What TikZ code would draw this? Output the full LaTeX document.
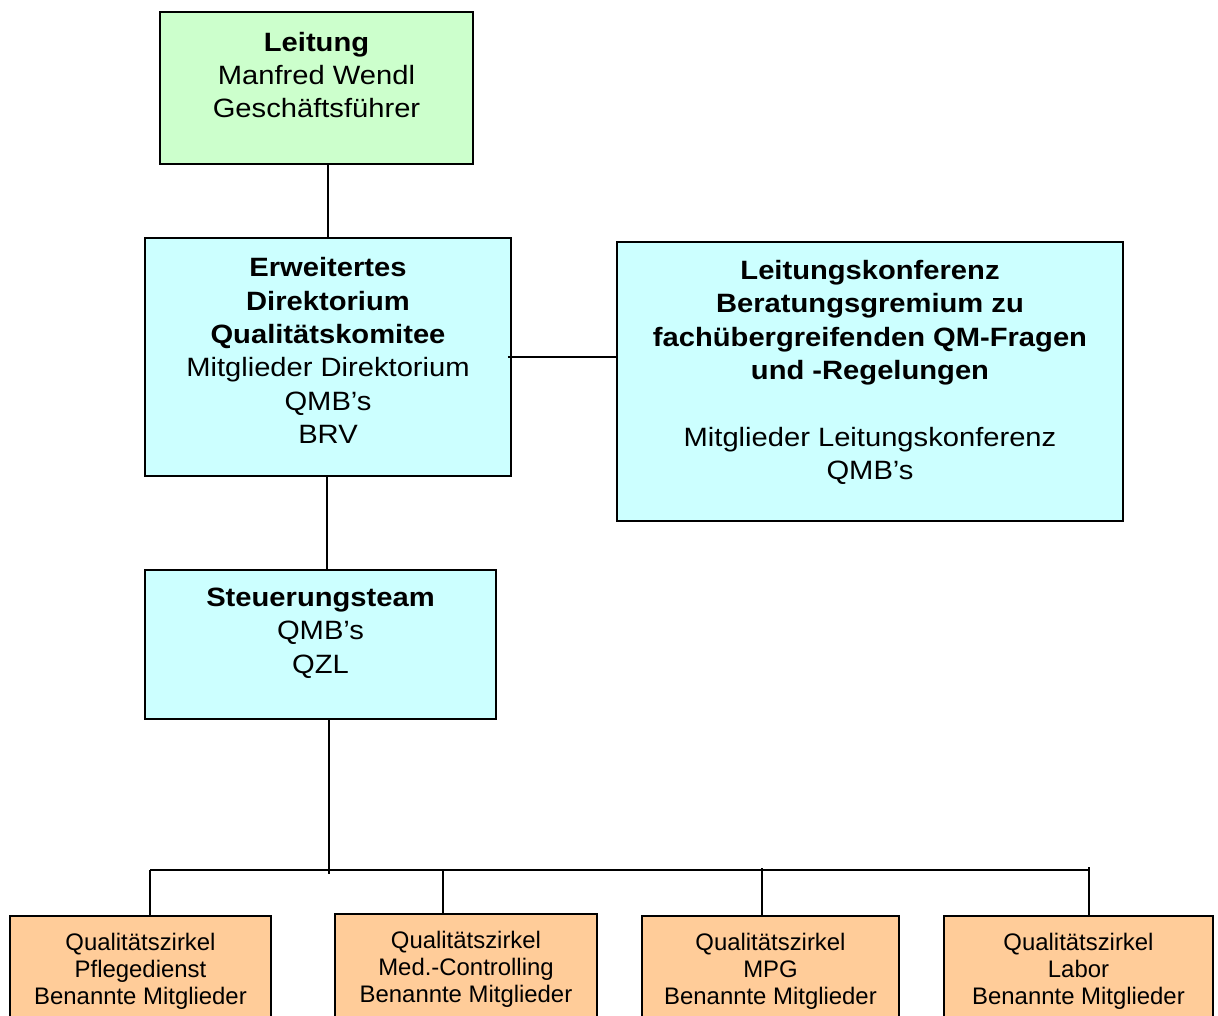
\documentclass[tikz,border=0pt]{standalone}
\usepackage{fontspec}
\setmainfont{Liberation Sans}
\newfontfamily\topfont{Liberation Sans}[FakeStretch=1.1]
\definecolor{lgreen}{HTML}{CCFFCC}
\definecolor{lcyan}{HTML}{CCFFFF}
\definecolor{lorange}{HTML}{FFCC99}
\begin{document}
\begin{tikzpicture}[x=1pt,y=-1pt,
  box/.style={draw=black, line width=1.8pt, inner sep=0pt},
  toptext/.style={align=center, inner sep=0pt, font=\topfont\fontsize{26.5}{33.3}\selectfont},
  bottext/.style={align=center, inner sep=0pt, font=\fontsize{23.9}{27}\selectfont},
  conn/.style={draw=black, line width=1.8pt}]
\clip (0,0) rectangle (1218,1016);
\fill[white] (0,0) rectangle (1218,1016);

% boxes
\node[box, fill=lgreen, minimum width=313pt, minimum height=152pt] (lead) at (316.5,88) {};
\node[box, fill=lcyan, minimum width=366pt, minimum height=238pt] (erw) at (328,357) {};
\node[box, fill=lcyan, minimum width=506pt, minimum height=279pt] (lk) at (870,381.5) {};
\node[box, fill=lcyan, minimum width=351pt, minimum height=149pt] (steu) at (320.5,644.5) {};
\node[box, fill=lorange, minimum width=261pt, minimum height=124pt] (q1) at (140.5,978) {};
\node[box, fill=lorange, minimum width=262pt, minimum height=126pt] (q2) at (466,977) {};
\node[box, fill=lorange, minimum width=257pt, minimum height=124pt] (q3) at (770.5,978) {};
\node[box, fill=lorange, minimum width=269pt, minimum height=124pt] (q4) at (1078.5,978) {};

% texts
\node[toptext] (leadT) at (316.5,75) {\textbf{Leitung}\\Manfred Wendl\\Geschäftsführer};
\node[toptext] (erwT) at (328,350.5) {\textbf{Erweitertes}\\\textbf{Direktorium}\\\textbf{Qualitätskomitee}\\Mitglieder Direktorium\\QMB’s\\BRV};
\node[toptext] (lkT) at (870,372.5) {\textbf{Leitungskonferenz}\\\textbf{Beratungsgremium zu}\\\textbf{fachübergreifenden QM-Fragen}\\\textbf{und -Regelungen}\\[33.3pt]Mitglieder Leitungskonferenz\\QMB’s};
\node[toptext] (steuT) at (320.5,633) {\textbf{Steuerungsteam}\\QMB’s\\QZL};
\node[bottext] (q1T) at (140.5,971) {Qualitätszirkel\\Pflegedienst\\Benannte Mitglieder};
\node[bottext] (q2T) at (466,969) {Qualitätszirkel\\Med.-Controlling\\Benannte Mitglieder};
\node[bottext] (q3T) at (770.5,971) {Qualitätszirkel\\MPG\\Benannte Mitglieder};
\node[bottext] (q4T) at (1078.5,971) {Qualitätszirkel\\Labor\\Benannte Mitglieder};

% connectors
\draw[conn] (erw.north) -- (erw.north |- lead.south);
\draw[conn] ([xshift=-4pt]erw.east) -- (erw.east -| lk.west);
\draw[conn] ([xshift=-1pt]erw.south) -- ([xshift=-1pt]erw.south |- steu.north);

\coordinate (hub) at (329,870);
\coordinate (hubEnd) at (329,874);
\coordinate (barL) at (150,870);
\coordinate (barR) at (1089,870);
\coordinate (d1) at (150,870);
\coordinate (d2) at (443,870);
\coordinate (d3) at (762,868);
\coordinate (d4) at (1089,867);

\draw[conn] (hub |- steu.south) -- (hubEnd);
\draw[conn] (barL) -- (barR);
\draw[conn] (d1) -- (d1 |- q1.north);
\draw[conn] (d2) -- (d2 |- q2.north);
\draw[conn] (d3) -- (d3 |- q3.north);
\draw[conn] (d4) -- (d4 |- q4.north);
\end{tikzpicture}
\end{document}
